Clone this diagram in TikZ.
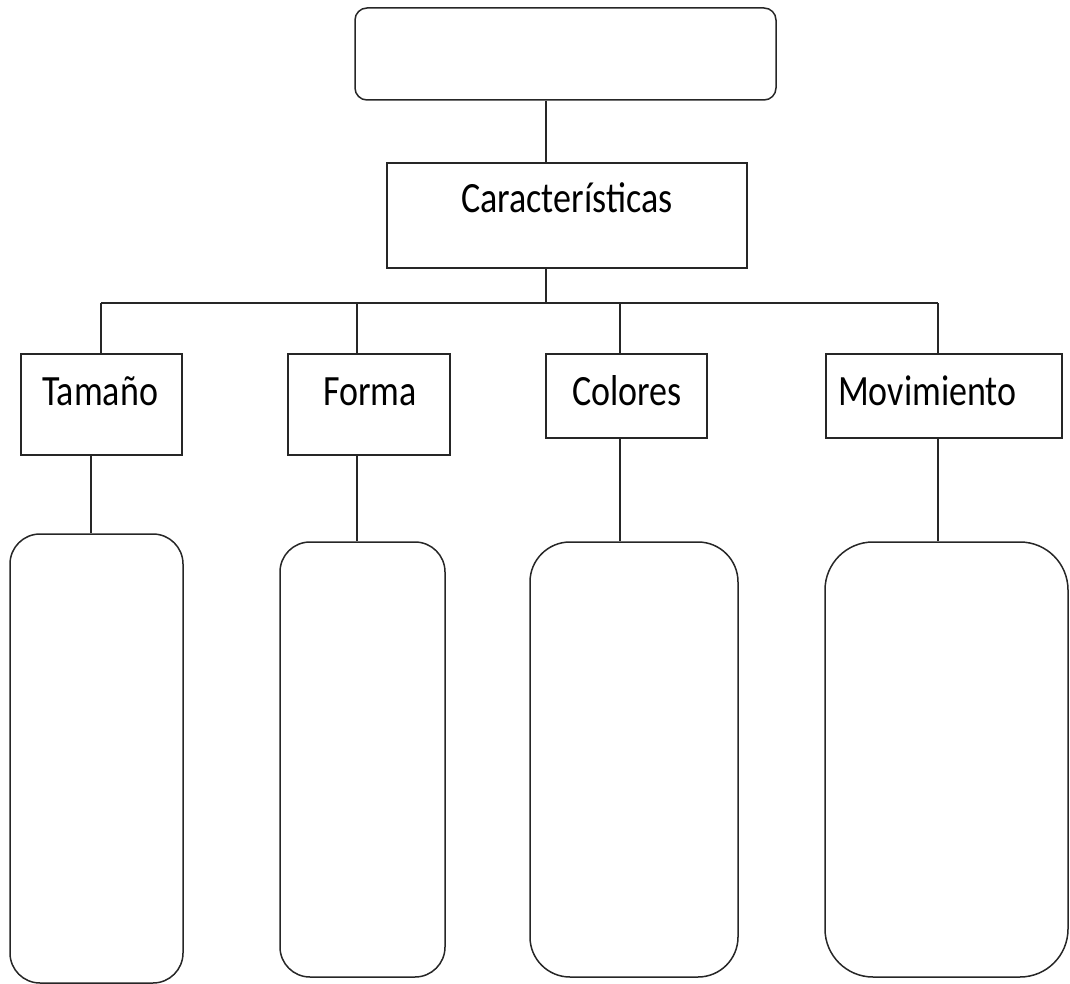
\documentclass[tikz,border=0pt]{standalone}
\usepackage{fontspec}
\setmainfont{Carlito}
\begin{document}
\begin{tikzpicture}[x=1pt,y=-1pt,
  ink/.style={draw=black!85, line width=1.5pt},
  box/.style={ink, rectangle, inner sep=0pt},
  lbl/.style={anchor=base west, inner sep=0pt, font=\fontsize{36}{40}\selectfont},
  link/.style={ink}]
\useasboundingbox (0,0) rectangle (1070,984);

% title box and the "Características" box
\node[box, rounded corners=12pt, minimum width=421pt, minimum height=92pt] (top) at (565.5,54) {};
\node[box, minimum width=360pt, minimum height=105pt] (car) at (567,215.5) {};

% category boxes
\node[box, minimum width=161pt, minimum height=101pt] (tam) at (101.5,404.5) {};
\node[box, minimum width=162pt, minimum height=101pt] (for) at (369,404.5) {};
\node[box, minimum width=161pt, minimum height=84pt]  (col) at (626.5,396) {};
\node[box, minimum width=236pt, minimum height=84pt]  (mov) at (944,396) {};

% empty boxes below each category
\node[box, rounded corners=30pt, minimum width=173pt, minimum height=449pt] (b1) at (96.5,758.5) {};
\node[box, rounded corners=30pt, minimum width=165pt, minimum height=435pt] (b2) at (362.5,759.5) {};
\node[box, rounded corners=40pt, minimum width=208pt, minimum height=435pt] (b3) at (634,759.5) {};
\node[box, rounded corners=48pt, minimum width=243pt, minimum height=435pt] (b4) at (946.5,759.5) {};

% labels
\node[lbl] (tcar) at (461,213) {\scalebox{1}[1.2]{Características}};
\node[lbl] (ttam) at (42,405)  {\scalebox{1}[1.2]{Tamaño}};
\node[lbl] (tfor) at (323,405) {\scalebox{1}[1.2]{Forma}};
\node[lbl] (tcol) at (572,405) {\scalebox{1}[1.2]{Colores}};
\node[lbl] (tmov) at (838,405) {\scalebox{1}[1.2]{Movimiento}};

% connector positions
\coordinate (cm) at (546,303);
\coordinate (c1) at (101,303);
\coordinate (c2) at (357,303);
\coordinate (c3) at (620,303);
\coordinate (c4) at (938,303);
\coordinate (d1) at (91,0);
\coordinate (d2) at (357,0);
\coordinate (d3) at (620,0);
\coordinate (d4) at (938,0);

% upper connectors
\draw[link] (cm |- top.south) -- (cm |- car.north);
\draw[link] (cm |- car.south) -- (cm);
\draw[link] (c1) -- (c4);
\draw[link] (c1) -- (c1 |- tam.north);
\draw[link] (c2) -- (c2 |- for.north);
\draw[link] (c3) -- (c3 |- col.north);
\draw[link] (c4) -- (c4 |- mov.north);

% lower connectors
\draw[link] (d1 |- tam.south) -- (d1 |- b1.north);
\draw[link] (d2 |- for.south) -- (d2 |- b2.north);
\draw[link] (d3 |- col.south) -- (d3 |- b3.north);
\draw[link] (d4 |- mov.south) -- (d4 |- b4.north);
\end{tikzpicture}
\end{document}
